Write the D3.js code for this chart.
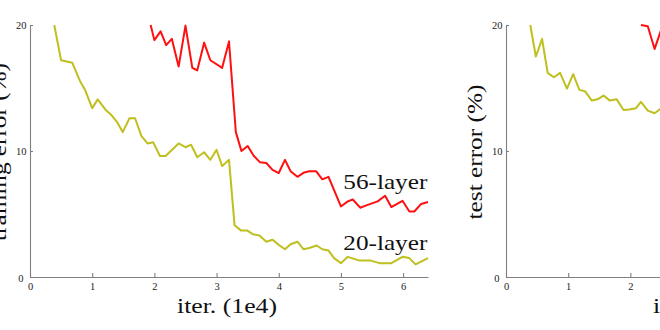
<!DOCTYPE html>
<html>
<head>
<meta charset="utf-8">
<script src="https://cdn.jsdelivr.net/npm/d3@7"></script>
<style>
  body { margin: 0; background: #fff; }
  svg { display: block; }
  text { font-family: "Liberation Serif", "Times New Roman", serif; }
</style>
</head>
<body>
<svg id="chart" width="660" height="330"></svg>
<script>
// Training error, 20-layer plain net (iterations in units of 1e4, error in %)
const trainIter20 = [0.39, 0.50, 0.68, 0.80, 0.89, 1.00, 1.09, 1.21, 1.30, 1.40, 1.49, 1.60, 1.69, 1.79, 1.89, 1.98,
  2.09, 2.18, 2.39, 2.50, 2.59, 2.69, 2.80, 2.90, 3.00, 3.09, 3.20, 3.29, 3.39, 3.49, 3.58, 3.69, 3.80, 3.90,
  4.00, 4.10, 4.19, 4.30, 4.40, 4.49, 4.61, 4.70, 4.80, 4.89, 5.00, 5.11, 5.30, 5.48, 5.62, 5.81, 5.99, 6.10, 6.20, 6.40];
const trainErr20 = [20.0, 17.2, 17.0, 15.6, 14.8, 13.4, 14.1, 13.3, 12.9, 12.3, 11.5, 12.6, 12.6, 11.2, 10.6, 10.7,
  9.6, 9.6, 10.6, 10.3, 10.5, 9.5, 9.9, 9.3, 10.1, 8.8, 9.3, 4.1, 3.7, 3.7, 3.4, 3.3, 2.8, 2.95,
  2.55, 2.2, 2.6, 2.8, 2.2, 2.3, 2.5, 2.2, 2.1, 1.5, 1.1, 1.6, 1.3, 1.3, 1.1, 1.1, 1.6, 1.5, 1.0, 1.5];

// Training error, 56-layer plain net
const trainIter56 = [1.94, 2.00, 2.10, 2.19, 2.28, 2.39, 2.50, 2.61, 2.69, 2.80, 2.90, 3.09, 3.20, 3.31, 3.40, 3.50,
  3.60, 3.70, 3.80, 3.90, 4.00, 4.10, 4.19, 4.30, 4.41, 4.49, 4.60, 4.70, 4.80, 5.00, 5.11, 5.19, 5.31, 5.42,
  5.59, 5.71, 5.81, 5.99, 6.10, 6.18, 6.29, 6.40];
const trainErr56 = [20.0, 18.8, 19.5, 18.4, 18.9, 16.7, 19.95, 16.6, 16.4, 18.6, 17.2, 16.6, 18.7, 11.5, 10.0, 10.4,
  9.6, 9.1, 9.05, 8.5, 8.25, 9.3, 8.4, 7.95, 8.3, 8.4, 8.4, 7.75, 7.95, 5.6, 6.0, 6.15, 5.5, 5.7,
  6.0, 6.45, 5.55, 6.05, 5.2, 5.2, 5.8, 5.95];

// Test error, 20-layer and 56-layer
const testIter20 = [0.39, 0.48, 0.58, 0.67, 0.77, 0.87, 0.98, 1.08, 1.18, 1.27, 1.38, 1.47, 1.57, 1.67, 1.78, 1.89,
  1.98, 2.09, 2.17, 2.28, 2.39, 2.50];
const testErr20 = [20.0, 17.5, 18.9, 16.2, 15.85, 16.2, 14.95, 16.1, 14.85, 14.75, 14.0, 14.1, 14.4, 14.0, 14.1, 13.25,
  13.3, 13.4, 13.9, 13.2, 13.0, 13.4];
const testIter56 = [2.17, 2.28, 2.39, 2.50];
const testErr56 = [20.0, 19.9, 18.1, 19.7];

const xTicks = [0, 1, 2, 3, 4, 5, 6];
const yTicks = [0, 10, 20];

const color20 = "#bfbf1f";
const color56 = "#ff1010";
const axisGray = "#7f7f7f";

const svg = d3.select("#chart");
svg.append("rect").attr("width", 660).attr("height", 330).attr("fill", "#fff");

function zip(xs, ys) { return xs.map((x, i) => [x, ys[i]]); }

function panel(left, yTitle, yTitleLen, series) {
  const x = d3.scaleLinear().domain([0, 6.4]).range([left, left + 398]);
  const y = d3.scaleLinear().domain([0, 20]).range([277, 25]);
  const g = svg.append("g");

  // x axis: ticks point into the plot
  const xa = g.append("g").attr("transform", "translate(0,277)")
    .call(d3.axisBottom(x).tickValues(xTicks).tickSize(-4).tickSizeOuter(0).tickPadding(6).tickFormat(d3.format("d")));
  // y axis
  const ya = g.append("g").attr("transform", `translate(${left},0)`)
    .call(d3.axisLeft(y).tickValues(yTicks).tickSize(-3).tickSizeOuter(0).tickPadding(3.5).tickFormat(d3.format("d")));

  [xa, ya].forEach(a => {
    a.select(".domain").attr("stroke", axisGray).attr("stroke-width", 1.1);
    a.selectAll(".tick line").attr("stroke", axisGray).attr("stroke-width", 1.1);
    a.selectAll(".tick text").attr("fill", "#222").attr("font-size", 10.5)
      .attr("font-family", "Liberation Serif, serif");
  });
  // the zero on the y axis sits a little lower and further left
  ya.selectAll(".tick").filter(d => d === 0).select("text")
    .attr("x", -6.5).attr("dy", "0.45em");

  const line = d3.line().x(d => x(d[0])).y(d => y(d[1]));
  series.forEach(s => {
    g.append("path").datum(zip(s.iter, s.err))
      .attr("fill", "none").attr("stroke", s.color).attr("stroke-width", 2)
      .attr("stroke-linejoin", "round").attr("d", line);
  });

  // axis titles
  g.append("text").attr("x", left + 147).attr("y", 313.3)
    .attr("font-size", 21.5).attr("fill", "#111")
    .attr("textLength", 100).attr("lengthAdjust", "spacingAndGlyphs")
    .text("iter. (1e4)");
  g.append("text")
    .attr("transform", `translate(${left - 24.5},${152 + yTitleLen / 2}) rotate(-90)`)
    .attr("font-size", 21.5).attr("fill", "#111")
    .attr("textLength", yTitleLen).attr("lengthAdjust", "spacingAndGlyphs")
    .text(yTitle);
  return { x, y, g };
}

const p1 = panel(30, "training error (%)", 178, [
  { iter: trainIter20, err: trainErr20, color: color20 },
  { iter: trainIter56, err: trainErr56, color: color56 }
]);
panel(506, "test error (%)", 135, [
  { iter: testIter20, err: testErr20, color: color20 },
  { iter: testIter56, err: testErr56, color: color56 }
]);

// series names beside the training curves
p1.g.append("text").attr("x", 343.3).attr("y", 189)
  .attr("font-size", 21.5).attr("fill", "#111")
  .attr("textLength", 84).attr("lengthAdjust", "spacingAndGlyphs").text("56-layer");
p1.g.append("text").attr("x", 343.3).attr("y", 250)
  .attr("font-size", 21.5).attr("fill", "#111")
  .attr("textLength", 84).attr("lengthAdjust", "spacingAndGlyphs").text("20-layer");
</script>
</body>
</html>
